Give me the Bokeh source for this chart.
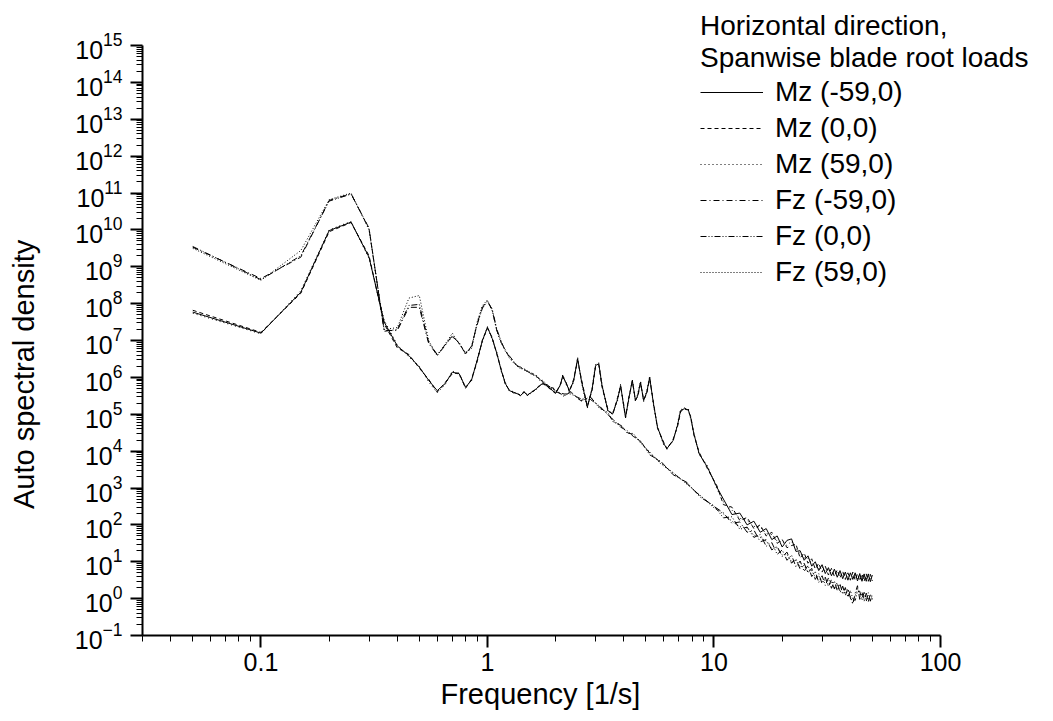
from bokeh.plotting import figure
from bokeh.models import FixedTicker, CustomJSTickFormatter, Legend, LegendItem, Title
from bokeh.embed import file_html
from bokeh.resources import INLINE

# ---------------- data (frequencies in 1/s, densities stored as log10 values) ----------------
f_low = [0.05, 0.1, 0.15, 0.2, 0.25, 0.3, 0.35, 0.4, 0.45, 0.5, 0.55, 0.6, 0.65, 0.7, 0.75, 0.8,
         0.85, 0.9, 0.95, 1.0, 1.05, 1.1, 1.15, 1.2, 1.25, 1.3, 1.35, 1.4, 1.45, 1.5, 1.55, 1.6,
         1.65, 1.7, 1.75, 1.8, 1.85, 1.9, 1.95, 2.0]
f_high = [11, 12, 13, 14, 15, 16, 17, 18, 19, 20, 21, 22, 23, 24, 25, 26, 27, 28, 29, 30,
          31, 32, 33, 34, 35, 36, 37, 38, 39, 40, 41, 42, 43, 44, 45, 46, 47, 48, 49, 50]
f_mid_fz = [2.18, 2.33, 2.58, 2.85, 3.13, 3.4, 3.6, 3.87, 4.15, 4.4, 4.74, 5.2, 5.83, 6.6, 7.6, 8.7, 10.0]
f_mid_mz = [2.1, 2.15, 2.22, 2.3, 2.4, 2.5, 2.6, 2.76, 2.9, 3.0, 3.1, 3.2, 3.4, 3.57, 3.75, 3.87,
            4.0, 4.07, 4.2, 4.36, 4.5, 4.6, 4.74, 4.89, 5.05, 5.2, 5.4, 5.63, 6.0, 6.2, 6.6, 6.9,
            7.12, 7.4, 7.7, 7.9, 8.15, 8.6, 9.36, 10.3]
freq_fz = f_low + f_mid_fz + f_high
freq_mz = f_low + f_mid_mz + f_high

log_fz_m59 = ([9.53, 8.68, 9.26, 10.80, 10.98, 10.03, 7.27, 7.27, 7.90, 7.90, 6.92, 6.60, 6.86, 7.14, 6.92, 6.65,
               6.80, 7.46, 7.90, 8.08, 7.81, 7.27, 6.95, 6.73, 6.55, 6.42, 6.32, 6.26, 6.22, 6.16, 6.12, 6.10,
               6.02, 5.95, 5.90, 5.82, 5.78, 5.73, 5.70, 5.62]
              + [5.51, 5.60, 5.37, 5.46, 5.19, 5.01, 4.80, 4.70, 4.50, 4.45, 4.25, 3.95, 3.68, 3.40, 3.12, 2.78, 2.50]
              + [2.33, 2.04, 2.08, 1.80, 1.86, 1.54, 1.60, 1.32, 1.42, 1.14, 1.26, 0.96, 1.08, 0.80, 0.96, 0.70,
                 0.82, 0.52, 0.68, 0.40, 0.58, 0.32, 0.52, 0.26, 0.44, 0.16, 0.34, 0.08, 0.28, 0.02, -0.15, 0.15,
                 0.35, -0.02, 0.18, -0.07, 0.15, -0.08, 0.13, -0.02])
log_fz_0 = ([9.55, 8.65, 9.30, 10.78, 10.97, 10.05, 7.25, 7.30, 7.95, 7.98, 6.95, 6.62, 6.88, 7.10, 6.95, 6.62,
             6.85, 7.42, 7.88, 8.05, 7.85, 7.30, 6.98, 6.70, 6.58, 6.45, 6.30, 6.28, 6.20, 6.18, 6.10, 6.08,
             6.00, 5.97, 5.88, 5.80, 5.80, 5.70, 5.72, 5.60]
            + [5.55, 5.55, 5.42, 5.40, 5.22, 4.98, 4.85, 4.65, 4.55, 4.40, 4.28, 3.90, 3.72, 3.36, 3.15, 2.75, 2.52]
            + [2.19, 2.22, 1.88, 1.94, 1.66, 1.74, 1.42, 1.52, 1.20, 1.32, 1.04, 1.18, 0.86, 1.02, 0.74, 0.90,
               0.60, 0.74, 0.44, 0.62, 0.36, 0.56, 0.28, 0.48, 0.22, 0.40, 0.12, 0.30, 0.04, 0.22, 0.00, -0.05,
               0.20, 0.20, -0.04, 0.17, -0.07, 0.16, -0.07, 0.11])
log_fz_59 = ([9.50, 8.63, 9.44, 10.82, 11.00, 10.00, 7.30, 7.35, 8.15, 8.22, 7.00, 6.58, 6.90, 7.20, 6.90, 6.68,
              6.78, 7.50, 7.95, 8.10, 7.80, 7.25, 6.92, 6.75, 6.52, 6.40, 6.35, 6.22, 6.25, 6.14, 6.15, 6.05,
              6.05, 5.92, 5.92, 5.85, 5.75, 5.75, 5.68, 5.65]
             + [5.48, 5.62, 5.35, 5.48, 5.15, 5.05, 4.78, 4.72, 4.48, 4.48, 4.22, 3.98, 3.65, 3.42, 3.10, 2.80, 2.46]
             + [2.30, 2.10, 1.95, 1.92, 1.72, 1.66, 1.56, 1.36, 1.38, 1.18, 1.20, 1.00, 1.04, 0.86, 0.90, 0.72,
                0.76, 0.58, 0.62, 0.46, 0.52, 0.38, 0.46, 0.30, 0.40, 0.22, 0.30, 0.14, 0.22, 0.06, -0.12, 0.08,
                0.30, 0.04, 0.12, -0.02, 0.10, -0.04, 0.08, 0.00])

log_mz_m59 = ([7.77, 7.20, 8.31, 9.98, 10.21, 9.26, 7.50, 6.85, 6.59, 6.28, 5.92, 5.64, 5.83, 6.14, 6.10, 5.73,
               5.92, 6.46, 7.00, 7.36, 7.05, 6.65, 6.19, 5.83, 5.64, 5.60, 5.56, 5.51, 5.60, 5.52, 5.58, 5.64,
               5.70, 5.78, 5.83, 5.80, 5.74, 5.69, 5.62, 5.58]
              + [5.80, 6.05, 5.85, 5.64, 5.90, 6.51, 5.90, 5.19, 5.70, 6.32, 6.37, 5.80, 5.10, 5.01, 5.40, 5.78,
                 5.20, 4.92, 5.40, 5.92, 5.37, 5.50, 5.87, 5.37, 5.60, 6.00, 5.30, 4.65, 4.20, 4.07, 4.29, 4.70,
                 5.10, 5.15, 5.12, 4.90, 4.47, 3.93, 3.56, 3.02]
              + [2.70, 2.28, 2.32, 2.00, 2.10, 1.80, 1.90, 1.60, 1.70, 1.40, 1.58, 1.62, 1.28, 1.30, 1.04, 1.16,
                 0.88, 1.00, 0.76, 0.92, 0.68, 0.84, 0.62, 0.80, 0.58, 0.76, 0.54, 0.72, 0.50, 0.70, 0.52, 0.70,
                 0.48, 0.68, 0.47, 0.67, 0.47, 0.67, 0.46, 0.64])
log_mz_0 = ([7.82, 7.22, 8.28, 9.95, 10.20, 9.30, 7.45, 6.80, 6.62, 6.25, 5.95, 5.60, 5.86, 6.10, 6.12, 5.70,
             5.95, 6.42, 7.02, 7.33, 7.08, 6.62, 6.22, 5.80, 5.66, 5.58, 5.58, 5.50, 5.62, 5.50, 5.60, 5.62,
             5.72, 5.76, 5.85, 5.78, 5.76, 5.66, 5.64, 5.55]
            + [5.82, 6.00, 5.88, 5.60, 5.95, 6.45, 5.95, 5.22, 5.66, 6.28, 6.35, 5.75, 5.14, 4.98, 5.45, 5.74,
               5.25, 4.90, 5.45, 5.88, 5.40, 5.46, 5.83, 5.40, 5.56, 5.96, 5.34, 4.62, 4.24, 4.05, 4.32, 4.66,
               5.06, 5.18, 5.08, 4.94, 4.44, 3.97, 3.52, 3.06]
            + [2.55, 2.48, 2.12, 2.20, 1.90, 2.00, 1.70, 1.80, 1.50, 1.60, 1.38, 1.44, 1.48, 1.10, 1.24, 0.96,
               1.08, 0.80, 0.96, 0.72, 0.88, 0.64, 0.82, 0.60, 0.78, 0.56, 0.74, 0.52, 0.70, 0.50, 0.72, 0.50,
               0.68, 0.48, 0.67, 0.47, 0.67, 0.47, 0.66, 0.48])
log_mz_59 = ([7.74, 7.18, 8.35, 10.00, 10.23, 9.22, 7.55, 6.88, 6.55, 6.30, 5.88, 5.58, 5.80, 6.18, 6.06, 5.76,
              5.90, 6.50, 6.96, 7.38, 7.02, 6.68, 6.16, 5.86, 5.62, 5.62, 5.54, 5.53, 5.58, 5.54, 5.56, 5.66,
              5.68, 5.80, 5.81, 5.82, 5.72, 5.71, 5.60, 5.60]
             + [5.78, 6.08, 5.82, 5.68, 5.86, 6.55, 5.86, 5.16, 5.74, 6.35, 6.40, 5.84, 5.06, 5.04, 5.36, 5.82,
                5.16, 4.95, 5.36, 5.95, 5.34, 5.54, 5.90, 5.34, 5.64, 6.04, 5.26, 4.68, 4.16, 4.10, 4.26, 4.74,
                5.14, 5.12, 5.16, 4.86, 4.50, 3.90, 3.60, 2.98]
             + [2.62, 2.40, 2.18, 2.12, 1.96, 1.94, 1.76, 1.74, 1.56, 1.54, 1.44, 1.56, 1.34, 1.24, 1.10, 1.10,
                0.94, 0.94, 0.82, 0.86, 0.74, 0.78, 0.68, 0.74, 0.64, 0.70, 0.60, 0.66, 0.56, 0.64, 0.58, 0.64,
                0.54, 0.62, 0.53, 0.61, 0.53, 0.61, 0.52, 0.60])

series_names = ["Mz (-59,0)", "Mz (0,0)", "Mz (59,0)", "Fz (-59,0)", "Fz (0,0)", "Fz (59,0)"]
legend_title = "Horizontal direction,\nSpanwise blade root loads"
x_title = "Frequency [1/s]"
y_title = "Auto spectral density"
x_major = [0.1, 1, 10, 100]
x_axis_span = (0.03, 100)
y_axis_span = (0.1, 1e15)

FONT = "Liberation Sans"

# The frame reaches the right and top edges of the page so that the legend (drawn inside the
# frame) is not clipped; the axes themselves are limited to the spans above through `bounds`.
# Ranges keep the same scale: 798 px for 0.03..100 and 590 px for 1e-1..1e15.
p = figure(x_axis_type="log", y_axis_type="log", x_range=(0.03, 315.3), y_range=(0.1, 1.661e16),
           frame_width=911, frame_height=635, output_backend="svg", toolbar_location=None,
           min_border_left=142, min_border_right=0, min_border_top=0, min_border_bottom=86,
           background_fill_color="white", border_fill_color="white")
p.grid.visible = False
p.outline_line_color = None

styles = [
    (freq_mz, log_mz_m59, "solid"),
    (freq_mz, log_mz_0, "4 3"),
    (freq_mz, log_mz_59, "1 3"),
    (freq_fz, log_fz_m59, "6 3 1 3"),
    (freq_fz, log_fz_0, "6 2 1 2 1 2"),
    (freq_fz, log_fz_59, "1 2"),
]
items = []
for name, (fr, lg, dash) in zip(series_names, styles):
    vals = [10 ** v for v in lg]
    r = p.line(fr, vals, line_color="black", line_width=1, line_dash=dash)
    items.append(LegendItem(label=name, renderers=[r]))

# axes
x_minor = [m * 10 ** k for k in (-2, -1, 0, 1) for m in range(2, 10) if 0.03 <= m * 10 ** k <= 100]
p.xaxis.ticker = FixedTicker(ticks=x_major, minor_ticks=x_minor)
p.xaxis.formatter = CustomJSTickFormatter(code="return tick < 1 ? tick.toFixed(1) : tick.toFixed(0);")
p.xaxis.bounds = x_axis_span
y_major = [10.0 ** k for k in range(-1, 16)]
y_minor = [m * 10.0 ** k for k in range(-1, 15) for m in range(2, 10)]
p.yaxis.ticker = FixedTicker(ticks=y_major, minor_ticks=y_minor)
p.yaxis.bounds = y_axis_span

for ax in (p.xaxis[0], p.yaxis[0]):
    ax.axis_line_width = 2
    ax.axis_line_color = "black"
    ax.major_tick_line_width = 2
    ax.major_tick_out = 12
    ax.major_tick_in = 0
    ax.minor_tick_out = 6
    ax.minor_tick_in = 0
    ax.minor_tick_line_width = 1
    ax.major_label_text_font = FONT
    ax.major_label_text_font_size = "25px"
    ax.major_label_text_color = "black"
    ax.axis_label_text_font = FONT
    ax.axis_label_text_font_size = "29px"
    ax.axis_label_text_font_style = "normal"
    ax.axis_label_text_color = "black"

p.xaxis.major_label_standoff = 5
# trailing no-break spaces move the rotated title down to where the reference has it
p.yaxis.axis_label = y_title + "\u00a0" * 14
p.yaxis.major_label_standoff = 8
p.yaxis.axis_label_standoff = 32

# x-axis title, centred under the visible axis span (not under the widened frame)
p.add_layout(Title(text=x_title, align="left", offset=298, standoff=4,
                   text_font=FONT, text_font_size="29px", text_font_style="normal",
                   text_color="black"), "below")

# legend (its title holds the two heading lines)
legend = Legend(items=items, location=(558, 345), glyph_width=63, glyph_height=36, label_height=36,
                label_standoff=12, spacing=0, padding=0, margin=0,
                title=legend_title, title_text_font=FONT, title_text_font_size="28px",
                title_text_font_style="normal", title_text_color="black", title_standoff=0,
                label_text_font=FONT, label_text_font_size="28px", label_text_color="black",
                border_line_color=None, background_fill_alpha=0)
p.add_layout(legend)

open("out.html", "w").write(file_html(p, INLINE))
